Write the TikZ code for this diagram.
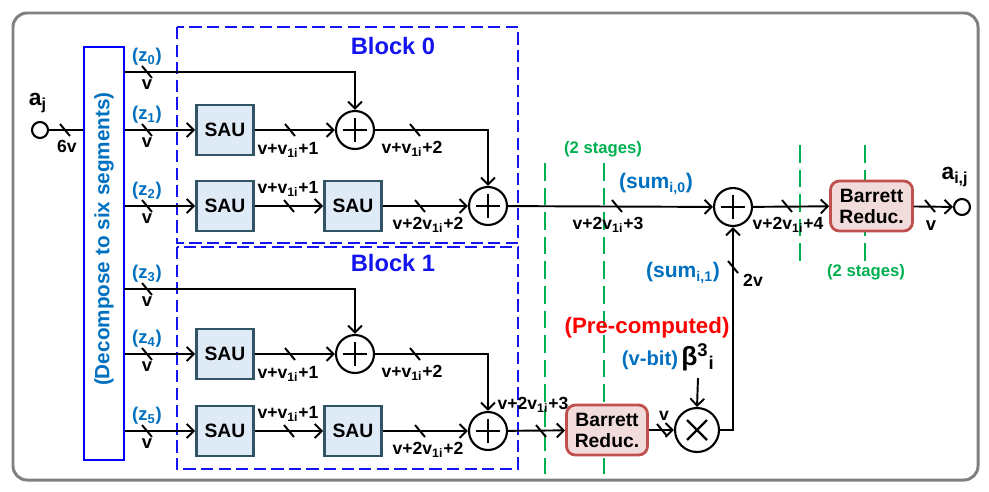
\documentclass[tikz,border=0pt]{standalone}
\usepackage{fontspec}
\setmainfont{Liberation Sans}
\usetikzlibrary{arrows.meta,calc}
\definecolor{frame}{RGB}{128,128,128}
\definecolor{blkblue}{RGB}{20,20,240}
\definecolor{lblue}{RGB}{0,112,192}
\definecolor{stgreen}{RGB}{0,176,80}
\definecolor{saufill}{RGB}{222,235,247}
\definecolor{sauedge}{RGB}{49,84,100}
\definecolor{barfill}{RGB}{242,220,219}
\definecolor{baredge}{RGB}{192,80,77}
\newcommand\busmark[2]{\draw[wire] (#1-5,#2-6) -- (#1+5,#2+6);}
\newcommand\fs[1]{\fontsize{#1}{#1}\selectfont\bfseries}
\tikzset{
  wire/.style={line width=1.1pt},
  arr/.style={wire,-{Straight Barb[length=4pt,width=8pt]}},
  saubox/.style={draw=sauedge,fill=saufill,line width=1.6pt,minimum width=1.14cm,minimum height=1cm,font=\fs{11},inner sep=0},
  barbox/.style={draw=baredge,fill=barfill,line width=1.6pt,rounded corners=5pt,minimum width=1.64cm,minimum height=1cm,align=center,font=\fontsize{11}{12}\selectfont\bfseries,inner sep=0},
  addnode/.style={circle,draw,line width=1.2pt,minimum size=0.76cm,inner sep=0,
    path picture={\draw[line width=1.3pt] ([xshift=-0.24cm]path picture bounding box.center) -- ([xshift=0.24cm]path picture bounding box.center);
                  \draw[line width=1.3pt] ([yshift=-0.24cm]path picture bounding box.center) -- ([yshift=0.24cm]path picture bounding box.center);}},
  mulnode/.style={circle,draw,line width=1.2pt,minimum size=0.88cm,inner sep=0,
    path picture={\draw[line width=1.3pt] ([shift={(-0.2cm,-0.2cm)}]path picture bounding box.center) -- ([shift={(0.2cm,0.2cm)}]path picture bounding box.center);
                  \draw[line width=1.3pt] ([shift={(-0.2cm,0.2cm)}]path picture bounding box.center) -- ([shift={(0.2cm,-0.2cm)}]path picture bounding box.center);}},
  port/.style={circle,draw,line width=1.2pt,minimum size=0.32cm,inner sep=0},
  lbl/.style={font=\fs{10},inner sep=0},
  vlbl/.style={font=\fs{10.5},inner sep=0},
  zlbl/.style={font=\fs{10.5},text=lblue,inner sep=0},
  blklbl/.style={font=\fs{13.5},text=blkblue,inner sep=0},
  blkdash/.style={draw=blkblue,line width=0.9pt,dash pattern=on 7pt off 3pt},
  stage/.style={draw=stgreen,line width=1.1pt,dash pattern=on 10pt off 4pt},
  stglbl/.style={font=\fs{9.5},text=stgreen,inner sep=0},
}
\begin{document}
\begin{tikzpicture}[x=0.02cm,y=-0.02cm]
\useasboundingbox (0,0) rectangle (989,491);
\draw[frame,line width=1.7pt,rounded corners=8pt] (13,13) rectangle (978,480);

% blocks
\draw[blkdash] (177,27) rectangle (518,243);
\draw[blkdash] (177,247) rectangle (518,469);
\node[blklbl] (b0lbl) at (393,46) {Block 0};
\node[blklbl] (b1lbl) at (393,263) {Block 1};

% input
\node[port] (ain) at (40,130) {};
\node[font=\fs{13},inner sep=0] (ajl) at (38,103) {a\textsubscript{j}};
\node[draw=blue,line width=0.8pt,minimum width=0.8cm,minimum height=8.26cm,inner sep=0] (dec) at (104,253.5) {};
\node[rotate=90,text=lblue,font=\fs{11.8},inner sep=0] (dectxt) at (104,239) {(Decompose to six segments)};
\draw[wire] (ain) -- (dec.west |- ain);
\busmark{65}{130}
\node[lbl] (l6v) at (67,146) {6v};

% block 0
\node[saubox] (s01) at (225,130) {SAU};
\node[saubox] (s02) at (225,206) {SAU};
\node[saubox] (s03) at (353,206) {SAU};
\node[addnode] (p01) at (355,130) {};
\node[addnode] (p02) at (488,206) {};
\coordinate (z0) at (124,72);
\draw[arr] (z0) -| (p01.north);
\draw[arr] (dec.east |- s01) -- (s01);
\draw[arr] (dec.east |- s02) -- (s02);
\draw[arr] (s01) -- (p01);
\draw[arr] (p01) -| (p02.north);
\draw[arr] (s02) -- (s03);
\draw[arr] (s03) -- (p02);

% block 1
\node[saubox] (s11) at (225,354) {SAU};
\node[saubox] (s12) at (225,431) {SAU};
\node[saubox] (s13) at (353,431) {SAU};
\node[addnode] (p11) at (355,354) {};
\node[addnode] (p12) at (488,431) {};
\coordinate (z3) at (124,289);
\draw[arr] (z3) -| (p11.north);
\draw[arr] (dec.east |- s11) -- (s11);
\draw[arr] (dec.east |- s12) -- (s12);
\draw[arr] (s11) -- (p11);
\draw[arr] (p11) -| (p12.north);
\draw[arr] (s12) -- (s13);
\draw[arr] (s13) -- (p12);

% z labels and slashes
\foreach \yy/\k in {72/0,130/1,206/2,289/3,354/4,431/5}{
  \busmark{147}{\yy}
  \node[zlbl] at (147,\yy-15) {(z\textsubscript{\k})};
  \node[vlbl] at (147,\yy+13) {v};
}

% internal labels block 0
\busmark{290}{130}
\node[lbl] at (288,150) {v+v\textsubscript{1i}+1};
\busmark{415}{130}
\node[lbl] at (412,149) {v+v\textsubscript{1i}+2};
\busmark{289}{206}
\node[lbl] at (288,189) {v+v\textsubscript{1i}+1};
\busmark{420}{206}
\node[lbl] at (428,225) {v+2v\textsubscript{1i}+2};
% internal labels block 1
\busmark{290}{354}
\node[lbl] at (288,374) {v+v\textsubscript{1i}+1};
\busmark{415}{354}
\node[lbl] at (412,373) {v+v\textsubscript{1i}+2};
\busmark{289}{431}
\node[lbl] at (288,414) {v+v\textsubscript{1i}+1};
\busmark{420}{431}
\node[lbl] at (428,450) {v+2v\textsubscript{1i}+2};

% stage lines
\draw[stage] (545,163) -- (545,474);
\draw[stage] (604,163) -- (604,474);
\node[stglbl] at (603,149) {(2 stages)};
\draw[stage] (800,145) -- (800,261);
\draw[stage] (865,145) -- (865,261);
\node[stglbl] at (866,272) {(2 stages)};

% right part
\node[addnode] (psum) at (733,207) {};
\node[barbox] (bar1) at (871.5,206) {Barrett\\Reduc.};
\node[port] (aout) at (962,207) {};
\node[font=\fs{13},inner sep=0] (aijl) at (955,177) {a\textsubscript{i,j}};
\node[barbox,minimum width=1.62cm] (bar2) at (607,430) {Barrett\\Reduc.};
\node[mulnode] (mul) at (697,430) {};
\node[font=\fontsize{15}{15}\selectfont\bfseries,inner sep=0] (beta) at (698,357) {β\textsuperscript{3}\textsubscript{i}};

\draw[arr] (p02) -- (psum);
\busmark{617}{206}
\node[lbl] at (608,225) {v+2v\textsubscript{1i}+3};
\node[font=\fs{12},text=lblue,inner sep=0] at (656,184) {(sum\textsubscript{i,0})};

\draw[arr] (p12) -- (bar2);
\busmark{541}{431}
\node[lbl] at (533,405) {v+2v\textsubscript{1i}+3};
\draw[arr] (bar2) -- (mul);
\busmark{662}{430}
\node[lbl] at (664,416) {v};
\draw[arr] (beta.south |- 0,378) -- (mul.north);
\node[font=\fs{11.5},text=lblue,inner sep=0] at (650,360) {(v-bit)};
\node[font=\fs{12.7},text=red,inner sep=0] at (647,328) {(Pre-computed)};

\draw[arr] (mul.east) -| (psum.south);
\busmark{733}{267}
\node[lbl] at (753,280) {2v};
\node[font=\fs{12},text=lblue,inner sep=0] at (683,273) {(sum\textsubscript{i,1})};

\draw[arr] (psum) -- (bar1);
\busmark{787}{206}
\node[lbl] at (788,225) {v+2v\textsubscript{1i}+4};
\draw[arr] (bar1) -- (aout);
\busmark{930}{206}
\node[vlbl] at (931,226) {v};
\end{tikzpicture}
\end{document}
